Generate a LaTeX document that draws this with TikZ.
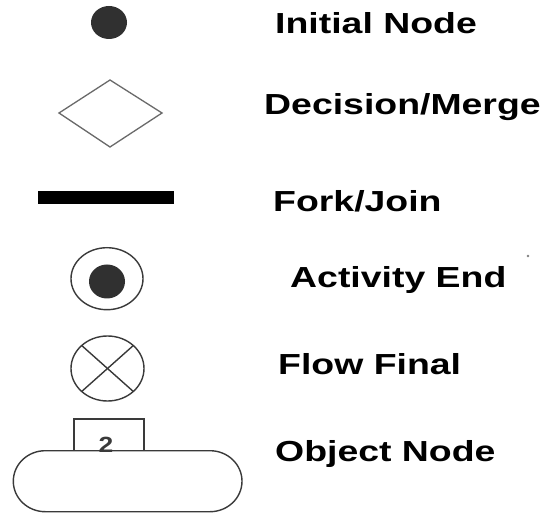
\documentclass[tikz,border=0pt]{standalone}
\usepackage{fontspec}
\setmainfont{Liberation Sans}
\definecolor{shapeline}{HTML}{3A3A3A}
\definecolor{diamline}{HTML}{6A6A6A}
\definecolor{darkfill}{HTML}{303030}
\tikzset{
  lbl/.style={anchor=base west, inner sep=0pt, font=\fontsize{29}{29}\selectfont\bfseries, text=black},
  outline/.style={draw=shapeline, line width=1.4pt},
}
\newcommand{\wide}[1]{\scalebox{1.29}[1]{#1}}
\begin{document}
\begin{tikzpicture}[x=1pt,y=1pt]
\useasboundingbox (0,0) rectangle (548,514);
\fill[white] (0,0) rectangle (548,514);
% Initial node
\fill[darkfill] (109,491.5) ellipse[x radius=18, y radius=16.5];
% Decision / Merge
\draw[draw=diamline, line width=1.3pt, line join=miter] (59,401) -- (110,434) -- (162,401) -- (110,367) -- cycle;
% Fork / Join
\fill[black] (38,310) rectangle (174,323);
% Activity end
\draw[outline] (107,235.3) ellipse[x radius=36, y radius=31];
\fill[darkfill] (107,232.5) ellipse[x radius=18, y radius=17];
% Flow final
\draw[outline] (107.5,145.5) ellipse[x radius=36.5, y radius=32.5];
\draw[outline] (107.5,145.5) ++(45:36.5 and 32.5) -- ++(225:73 and 65);
\draw[outline] (107.5,145.5) ++(135:36.5 and 32.5) -- ++(315:73 and 65);
% Object node
\draw[outline] (74,63.3) rectangle (144,95);
\node[anchor=base, inner sep=0pt, font=\fontsize{22}{22}\selectfont\bfseries, text=shapeline] (num) at (106,62) {\scalebox{1.2}[1]{2}};
\draw[outline] (45.3,63.3) -- (210,63.3) arc[start angle=90, end angle=-90, x radius=32, y radius=30.5] -- (45.3,2.3) arc[start angle=270, end angle=90, x radius=32, y radius=30.5] -- cycle;
% stray dot
\fill[gray] (528,258) circle[radius=1.4];
% Labels
\node[lbl] (l1) at (275,480.7) {\wide{Initial Node}};
\node[lbl] (l2) at (264,399) {\wide{Decision/Merge}};
\node[lbl] (l3) at (273,302) {\wide{Fork/Join}};
\node[lbl] (l4) at (290,226) {\wide{Activity End}};
\node[lbl] (l5) at (278,140) {\wide{Flow Final}};
\node[lbl] (l6) at (275,53) {\wide{Object Node}};
\end{tikzpicture}
\end{document}
